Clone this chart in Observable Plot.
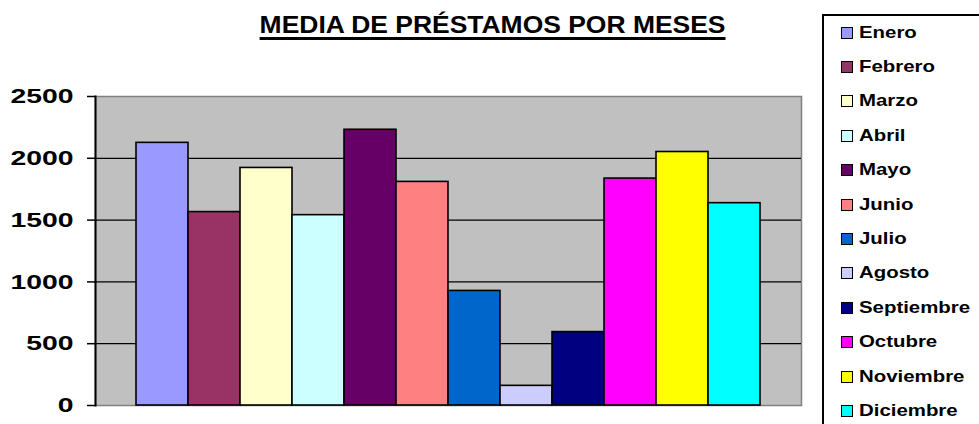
<!DOCTYPE html>
<html>
<head>
<meta charset="utf-8">
<script src="https://cdn.jsdelivr.net/npm/d3@7"></script>
<script src="https://cdn.jsdelivr.net/npm/@observablehq/plot@0.6"></script>
<style>
  html, body { margin: 0; padding: 0; background: #fff; }
  #wrap { position: relative; width: 979px; height: 424px; overflow: hidden; font-family: "Liberation Sans", Arial, sans-serif; }
  #chart { position: absolute; left: 0; top: 0; }
  #title { position: absolute; left: 0; width: 985px; top: 12px; text-align: center; font-weight: bold; font-size: 23px; line-height: 26px; }
  #title span { display: inline-block; transform: scaleX(1.15); transform-origin: center; text-decoration: underline; text-decoration-thickness: 3px; text-underline-offset: 4px; }
  #legend { position: absolute; left: 822px; top: 14px; width: 200px; height: 440px; border: 2px solid #000; box-sizing: border-box; background: #fff; }
  .item { position: absolute; left: 17px; height: 20px; display: flex; align-items: center; font-weight: bold; font-size: 17px; white-space: nowrap; }
  .sw { width: 10px; height: 10px; border: 1.5px solid #000; margin-right: 6px; }
  .lab { display: inline-block; transform: scaleX(1.2); transform-origin: left center; }
</style>
</head>
<body>
<div id="wrap">
  <div id="chart"></div>
  <div id="title"><span>MEDIA DE PRÉSTAMOS POR MESES</span></div>
  <div id="legend"></div>
</div>
<script>
const months = ["Enero","Febrero","Marzo","Abril","Mayo","Junio","Julio","Agosto","Septiembre","Octubre","Noviembre","Diciembre"];
const values = [2125, 1565, 1922, 1540, 2231, 1809, 927, 159, 594, 1836, 2051, 1637];
const colors = ["#9999ff","#993366","#ffffcc","#ccffff","#660066","#ff8080","#0066cc","#ccccff","#000080","#ff00ff","#ffff00","#00ffff"];
const yTicks = [0, 500, 1000, 1500, 2000, 2500];
const gridLines = [500, 1000, 1500, 2000];

const rows = months.map((m, i) => ({month: m, value: values[i], color: colors[i]}));

const svg = Plot.plot({
  width: 979,
  height: 424,
  marginLeft: 95,
  marginRight: 178,
  marginTop: 96,
  marginBottom: 19,
  style: {fontFamily: "'Liberation Sans', Arial, sans-serif", background: "transparent"},
  x: {type: "band", domain: months, paddingInner: 0, paddingOuter: 0.745, axis: null},
  y: {domain: [0, 2500], axis: null},
  color: {type: "identity"},
  marks: [
    Plot.frame({fill: "#c0c0c0", stroke: "#808080", strokeWidth: 1.5}),
    Plot.ruleY(gridLines, {stroke: "#000", strokeWidth: 1.3}),
    Plot.barY(rows, {x: "month", y: "value", fill: "color", stroke: "#000", strokeWidth: 1.6, insetLeft: 0, insetRight: 0}),
    Plot.frame({anchor: "left", stroke: "#000", strokeWidth: 2}),
    Plot.axisY({ticks: yTicks, tickSize: 8, tickPadding: 14, tickFormat: d => String(d), fontSize: 21, fontWeight: "bold", stroke: "#000", strokeWidth: 1.5, color: "#000", label: null})
  ]
});

svg.querySelectorAll('g[aria-label="y-axis tick label"] text').forEach(t => {
  const tr = t.getAttribute("transform");
  if (tr) t.setAttribute("transform", tr + " scale(1.35,1)");
});
document.getElementById("chart").appendChild(svg);

const legend = document.getElementById("legend");
months.forEach((m, i) => {
  const d = document.createElement("div");
  d.className = "item";
  d.style.top = (6.5 + i * 34.4) + "px";
  d.innerHTML = `<span class="sw" style="background:${colors[i]}"></span><span class="lab">${m}</span>`;
  legend.appendChild(d);
});
</script>
</body>
</html>
